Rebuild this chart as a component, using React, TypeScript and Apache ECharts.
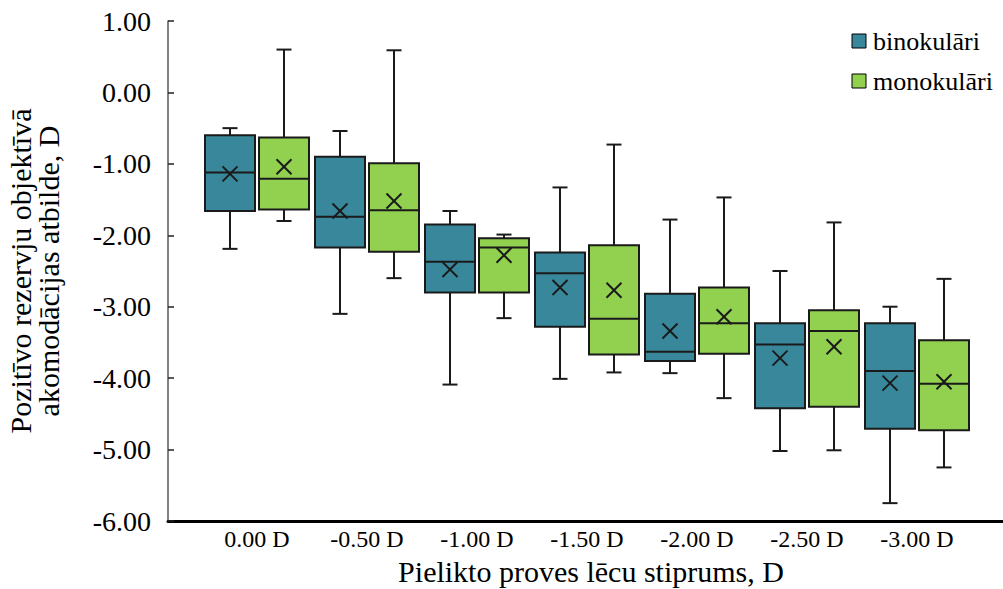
import React, { useEffect, useRef } from "react";
import * as echarts from "echarts";

// Categories (lens power)
const categories = ["0.00 D", "-0.50 D", "-1.00 D", "-1.50 D", "-2.00 D", "-2.50 D", "-3.00 D"];
const seriesNames = ["binokulāri", "monokulāri"];

// [min, Q1, median, Q3, max]
const binokulariBox = [
  [-2.19, -1.66, -1.12, -0.6, -0.5],
  [-3.1, -2.17, -1.74, -0.9, -0.54],
  [-4.09, -2.8, -2.37, -1.85, -1.66],
  [-4.01, -3.28, -2.53, -2.24, -1.33],
  [-3.93, -3.76, -3.63, -2.82, -1.78],
  [-5.02, -4.42, -3.53, -3.23, -2.5],
  [-5.75, -4.71, -3.9, -3.23, -3.0],
];
const binokulariMean = [-1.14, -1.66, -2.48, -2.73, -3.34, -3.72, -4.07];

const monokulariBox = [
  [-1.8, -1.64, -1.21, -0.63, 0.6],
  [-2.6, -2.23, -1.65, -0.99, 0.59],
  [-3.16, -2.8, -2.17, -2.04, -1.99],
  [-3.92, -3.67, -3.17, -2.14, -0.73],
  [-4.28, -3.66, -3.23, -2.73, -1.47],
  [-5.01, -4.4, -3.34, -3.05, -1.82],
  [-5.25, -4.73, -4.08, -3.47, -2.61],
];
const monokulariMean = [-1.04, -1.52, -2.28, -2.77, -3.14, -3.56, -4.05];

const yTicks = { min: -6, max: 1, interval: 1 };

const FONT = "'Liberation Serif', serif";
const TEAL = "#38879B";
const GREEN = "#92D050";
const STROKE = "#1a1a1a";
const seriesColors = [TEAL, GREEN];

function makeRenderItem(offset: number, color: string) {
  return (params: any, api: any) => {
    const i = api.value(0);
    const cx = api.coord([i, 0])[0] + offset;
    const yv = (d: number) => api.coord([i, api.value(d)])[1];
    const yMin = yv(1), yQ1 = yv(2), yMed = yv(3), yQ3 = yv(4), yMax = yv(5), yMean = yv(6);
    const hw = 25;
    const cap = 7.5;
    const m = 7.5;
    const ls = { stroke: STROKE, lineWidth: 2 };
    return {
      type: "group",
      children: [
        { type: "line", shape: { x1: cx, y1: yMax, x2: cx, y2: yQ3 }, style: ls },
        { type: "line", shape: { x1: cx, y1: yQ1, x2: cx, y2: yMin }, style: ls },
        { type: "line", shape: { x1: cx - cap, y1: yMax, x2: cx + cap, y2: yMax }, style: ls },
        { type: "line", shape: { x1: cx - cap, y1: yMin, x2: cx + cap, y2: yMin }, style: ls },
        {
          type: "rect",
          shape: { x: cx - hw, y: yQ3, width: hw * 2, height: yQ1 - yQ3 },
          style: { fill: color, stroke: STROKE, lineWidth: 2 },
        },
        { type: "line", shape: { x1: cx - hw, y1: yMed, x2: cx + hw, y2: yMed }, style: ls },
        { type: "line", shape: { x1: cx - m, y1: yMean - m, x2: cx + m, y2: yMean + m }, style: ls },
        { type: "line", shape: { x1: cx - m, y1: yMean + m, x2: cx + m, y2: yMean - m }, style: ls },
      ],
    };
  };
}

export default function App() {
  const ref = useRef<HTMLDivElement>(null);
  useEffect(() => {
    if (!ref.current) return;
    const chart = echarts.init(ref.current, undefined, { renderer: "svg" });
    const binData = binokulariBox.map((b, i) => [i, ...b, binokulariMean[i]]);
    const monoData = monokulariBox.map((b, i) => [i, ...b, monokulariMean[i]]);
    const legendItems = seriesNames.map((name, k) => ({
      type: "group",
      x: 852,
      y: 34 + k * 40,
      children: [
        {
          type: "rect",
          shape: { x: 0, y: 0, width: 14, height: 14 },
          style: { fill: seriesColors[k], stroke: "#000", lineWidth: 1 },
        },
        {
          type: "text",
          x: 21,
          y: 7,
          style: {
            text: name,
            font: "26px 'Liberation Serif', serif",
            fill: "#000",
            verticalAlign: "middle",
            align: "left",
          },
        },
      ],
    }));
    chart.setOption({
      animation: false,
      backgroundColor: "#fff",
      textStyle: { fontFamily: FONT, color: "#000" },
      grid: [
        { left: 202, right: 31, top: 21, bottom: 68, outerBoundsMode: "none", containLabel: false },
        { left: 168, right: 0, top: 21, bottom: 68, outerBoundsMode: "none", containLabel: false },
      ],
      graphic: legendItems,
      xAxis: [
        {
          type: "category",
          gridIndex: 0,
          data: categories,
          axisLine: { show: false, onZero: false },
          axisTick: { show: false },
          axisLabel: { fontFamily: FONT, fontSize: 24, color: "#000", margin: 6, interval: 0 },
          splitLine: { show: false },
          name: "Pielikto proves lēcu stiprums, D",
          nameLocation: "middle",
          nameGap: 35,
          nameTextStyle: { fontFamily: FONT, fontSize: 30, color: "#000", padding: [0, 0, 0, 8] },
        },
        {
          type: "value",
          gridIndex: 1,
          min: 0,
          max: 1,
          axisLine: { show: true, onZero: false, lineStyle: { color: "#000", width: 3 } },
          axisTick: { show: false },
          axisLabel: { show: false },
          splitLine: { show: false },
        },
      ],
      yAxis: [
        {
          type: "value",
          gridIndex: 0,
          ...yTicks,
          show: false,
          splitLine: { show: false },
        },
        {
          type: "value",
          gridIndex: 1,
          ...yTicks,
          axisLine: { show: true, onZero: false, lineStyle: { color: "#595959", width: 1.5 } },
          axisTick: { show: true, inside: true, length: 6, lineStyle: { color: "#222", width: 1.5 } },
          axisLabel: {
            fontFamily: FONT,
            fontSize: 28,
            color: "#000",
            margin: 17,
            formatter: (v: number) => v.toFixed(2),
          },
          splitLine: { show: false },
          name: "Pozitīvo rezervju objektīvā\nakomodācijas atbilde, D",
          nameLocation: "middle",
          nameGap: 106,
          nameRotate: 90,
          nameTextStyle: { fontFamily: FONT, fontSize: 30, color: "#000", lineHeight: 28 },
        },
      ],
      series: [
        {
          name: seriesNames[0],
          type: "custom",
          xAxisIndex: 0,
          yAxisIndex: 0,
          itemStyle: { color: TEAL },
          encode: { x: 0, y: [1, 2, 3, 4, 5, 6] },
          renderItem: makeRenderItem(-27, TEAL),
          data: binData,
        },
        {
          name: seriesNames[1],
          type: "custom",
          xAxisIndex: 0,
          yAxisIndex: 0,
          itemStyle: { color: GREEN },
          encode: { x: 0, y: [1, 2, 3, 4, 5, 6] },
          renderItem: makeRenderItem(27, GREEN),
          data: monoData,
        },
      ],
    });
    return () => chart.dispose();
  }, []);
  return (
    <div
      ref={ref}
      style={{ position: "fixed", left: 0, top: 0, width: 1003, height: 589, background: "#fff" }}
    />
  );
}
